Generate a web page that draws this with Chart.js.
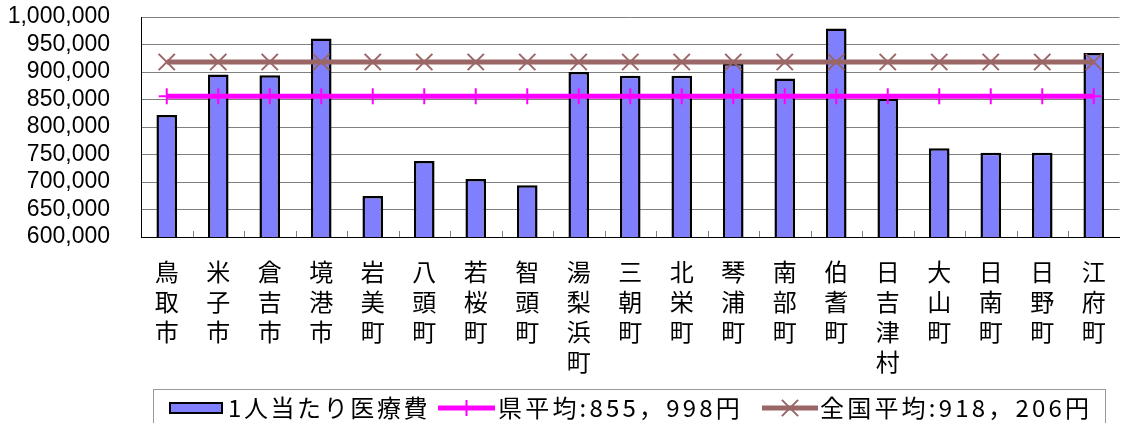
<!DOCTYPE html>
<html>
<head>
<meta charset="utf-8">
<script src="https://cdn.jsdelivr.net/npm/chart.js@4.4.0/dist/chart.umd.min.js"></script>
<style>
  html, body { margin: 0; padding: 0; background: #fff; overflow: hidden; width: 1130px; height: 423px; }
  #wrap { position: relative; width: 1133px; height: 423px; }
</style>
</head>
<body>
<div id="wrap"><canvas id="chart" width="1133" height="423"></canvas></div>
<script>
// Municipalities of Tottori Prefecture
const municipalities = [
  '鳥取市', '米子市', '倉吉市', '境港市', '岩美町', '八頭町', '若桜町', '智頭町',
  '湯梨浜町', '三朝町', '北栄町', '琴浦町', '南部町', '伯耆町', '日吉津村',
  '大山町', '日南町', '日野町', '江府町'
];

// Medical cost per person (yen)
const medicalCostPerPerson = [
  822000, 895500, 894000, 961000, 674500, 738000, 705500, 694000,
  900000, 893000, 893000, 916000, 888000, 979000, 852000,
  761500, 753000, 753000, 934500
];

// Prefecture average (yen)
const prefectureAverage = [
  855998, 855998, 855998, 855998, 855998, 855998, 855998, 855998,
  855998, 855998, 855998, 855998, 855998, 855998, 855998,
  855998, 855998, 855998, 855998
];

// National average (yen)
const nationalAverage = [
  918206, 918206, 918206, 918206, 918206, 918206, 918206, 918206,
  918206, 918206, 918206, 918206, 918206, 918206, 918206,
  918206, 918206, 918206, 918206
];

const yTickLabels = [
  '600,000', '650,000', '700,000', '750,000', '800,000',
  '850,000', '900,000', '950,000', '1,000,000'
];

const seriesLabels = ['1人当たり医療費', '県平均:855，998円', '全国平均:918，206円'];

const BAR_FILL = '#8080FF';
const PREF_COLOR = '#FF00FF';
const NATION_COLOR = '#9A6666';
const CJK_FONT = '"Noto Sans CJK JP", "Noto Sans CJK SC", sans-serif';

// vertical labels: one character per line
const xLabels = municipalities.map(name => Array.from(name));

function drawMarker(ctx, style, x, y, r) {
  ctx.beginPath();
  if (style === 'cross') {
    ctx.moveTo(x - r, y); ctx.lineTo(x + r, y);
    ctx.moveTo(x, y - r); ctx.lineTo(x, y + r);
  } else {
    const d = r * Math.SQRT1_2;
    ctx.moveTo(x - d, y - d); ctx.lineTo(x + d, y + d);
    ctx.moveTo(x + d, y - d); ctx.lineTo(x - d, y + d);
  }
  ctx.stroke();
}

function drawSpacedText(ctx, text, x, y, spacing) {
  for (const ch of Array.from(text)) {
    ctx.fillText(ch, x, y);
    x += ctx.measureText(ch).width + spacing;
  }
  return x;
}

// small inward tick marks between categories on the category axis
const categoryTicks = {
  id: 'categoryTicks',
  beforeDatasetsDraw(chart) {
    const { ctx, chartArea, scales } = chart;
    const xs = scales.x;
    ctx.save();
    ctx.strokeStyle = '#808080';
    ctx.lineWidth = 1;
    for (let i = 1; i < municipalities.length; i++) {
      const px = Math.round((xs.getPixelForValue(i - 1) + xs.getPixelForValue(i)) / 2) + 0.5;
      ctx.beginPath();
      ctx.moveTo(px, chartArea.bottom);
      ctx.lineTo(px, chartArea.bottom - 6);
      ctx.stroke();
    }
    ctx.restore();
  }
};

// boxed legend along the bottom edge
const boxedLegend = {
  id: 'boxedLegend',
  afterDraw(chart) {
    const { ctx } = chart;
    const ds = chart.data.datasets;
    const cy = 408;
    ctx.save();
    ctx.strokeStyle = '#999999';
    ctx.lineWidth = 1;
    ctx.strokeRect(153.5, 389.5, 952, 60);

    ctx.font = '24px ' + CJK_FONT;
    ctx.textBaseline = 'middle';
    ctx.textAlign = 'left';

    // bar swatch
    ctx.fillStyle = ds[0].backgroundColor;
    ctx.fillRect(170, 403, 52, 10);
    ctx.strokeStyle = '#000';
    ctx.lineWidth = 2;
    ctx.strokeRect(170, 403, 52, 10);
    ctx.fillStyle = '#000';
    drawSpacedText(ctx, ds[0].label, 228, cy, 2.6);

    // line swatches
    const items = [
      { d: ds[1], x0: 438, x1: 495, tx: 498 },
      { d: ds[2], x0: 762, x1: 818, tx: 820 }
    ];
    for (const it of items) {
      ctx.strokeStyle = it.d.borderColor;
      ctx.lineWidth = it.d.borderWidth;
      ctx.beginPath();
      ctx.moveTo(it.x0, cy);
      ctx.lineTo(it.x1, cy);
      ctx.stroke();
      ctx.lineWidth = it.d.pointBorderWidth;
      drawMarker(ctx, it.d.pointStyle, (it.x0 + it.x1) / 2, cy, it.d.pointRadius);
      ctx.fillStyle = '#000';
      drawSpacedText(ctx, it.d.label, it.tx, cy, 3.2);
    }
    ctx.restore();
  }
};

new Chart(document.getElementById('chart'), {
  data: {
    labels: xLabels,
    datasets: [
      {
        type: 'bar',
        label: seriesLabels[0],
        data: medicalCostPerPerson,
        backgroundColor: BAR_FILL,
        borderColor: '#000',
        borderWidth: 2.5,
        barPercentage: 0.4,
        categoryPercentage: 1.0,
        order: 3
      },
      {
        type: 'line',
        label: seriesLabels[1],
        data: prefectureAverage,
        borderColor: PREF_COLOR,
        borderWidth: 5,
        tension: 0,
        fill: false,
        pointStyle: 'cross',
        pointRadius: 8,
        pointBorderWidth: 2,
        pointBorderColor: PREF_COLOR,
        pointBackgroundColor: PREF_COLOR,
        order: 2
      },
      {
        type: 'line',
        label: seriesLabels[2],
        data: nationalAverage,
        borderColor: NATION_COLOR,
        borderWidth: 5,
        tension: 0,
        fill: false,
        pointStyle: 'crossRot',
        pointRadius: 11.5,
        pointBorderWidth: 2,
        pointBorderColor: NATION_COLOR,
        pointBackgroundColor: NATION_COLOR,
        order: 1
      }
    ]
  },
  options: {
    responsive: false,
    animation: false,
    devicePixelRatio: 1,
    layout: { padding: { top: 17, left: 0, right: 0, bottom: 0 } },
    plugins: {
      legend: { display: false },
      tooltip: { enabled: false }
    },
    scales: {
      x: {
        grid: { display: false, drawTicks: false },
        border: { color: '#000', width: 1 },
        ticks: {
          autoSkip: false,
          maxRotation: 0,
          minRotation: 0,
          padding: 20,
          color: '#000',
          font: { family: CJK_FONT, size: 24, lineHeight: 1.25 }
        },
        afterFit(scale) { scale.height = 423 - 237; }
      },
      y: {
        min: 600000,
        max: 1000000,
        grid: {
          color: '#808080',
          lineWidth: 1,
          drawTicks: true,
          tickLength: 31,
          tickColor: 'rgba(0,0,0,0)'
        },
        border: { color: '#000', width: 1 },
        ticks: {
          stepSize: 50000,
          autoSkip: false,
          padding: 0,
          color: '#000',
          font: { family: '"Liberation Sans", Arial, sans-serif', size: 23 },
          callback: (value, index) => yTickLabels[index]
        },
        afterFit(scale) { scale.width = 141; }
      }
    }
  },
  plugins: [categoryTicks, boxedLegend]
});
</script>
</body>
</html>
